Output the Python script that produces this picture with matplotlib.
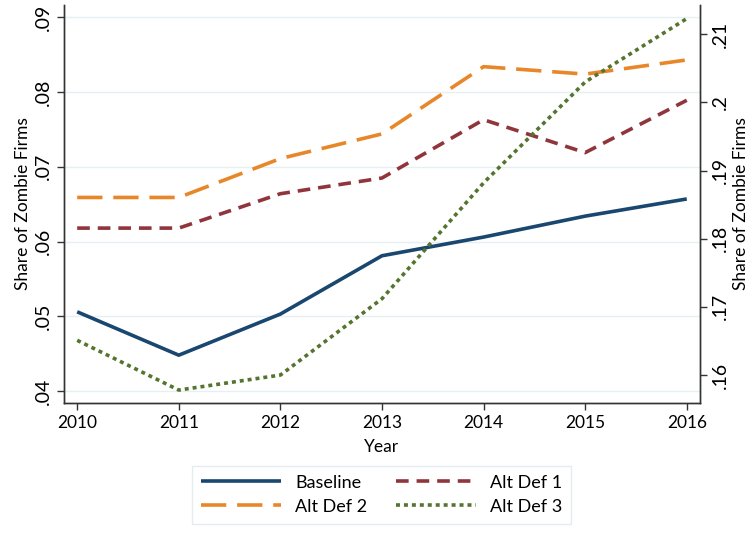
import matplotlib.pyplot as plt
import matplotlib.ticker as mticker

plt.rcParams['font.family'] = ['Lato', 'DejaVu Sans']

years = [2010, 2011, 2012, 2013, 2014, 2015, 2016]
baseline = [0.0506, 0.0448, 0.0503, 0.0581, 0.0606, 0.0634, 0.0657]
alt_def1 = [0.0618, 0.0618, 0.0664, 0.0685, 0.0763, 0.0719, 0.0789]
alt_def2 = [0.0659, 0.0659, 0.0711, 0.0744, 0.0834, 0.0824, 0.0843]
alt_def3 = [0.1651, 0.1578, 0.1600, 0.1712, 0.1882, 0.2030, 0.2123]

left_ticks = [0.04, 0.05, 0.06, 0.07, 0.08, 0.09]
right_ticks = [0.16, 0.17, 0.18, 0.19, 0.20, 0.21]

navy = '#1a476f'
orange = '#e8872a'
maroon = '#90353b'
green = '#55752f'
grid_c = '#e6eff2'
spine_c = '#333333'

fig = plt.figure(figsize=(7.5, 5.35), dpi=100)
ax = fig.add_axes([0.0853, 0.2467, 0.848, 0.744])
ax2 = ax.twinx()

l1, = ax.plot(years, baseline, color=navy, lw=2.6, label='Baseline', solid_capstyle='butt')
l2, = ax.plot(years, alt_def2, color=orange, lw=2.6, dashes=(7, 3), label='Alt Def 2')
l3, = ax.plot(years, alt_def1, color=maroon, lw=2.6, dashes=(3.5, 2.2), label='Alt Def 1')
l4, = ax2.plot(years, alt_def3, color=green, lw=2.6, dashes=(1.1, 1.1), label='Alt Def 3')

ax.set_xlim(2009.87, 2016.13)
ax.set_ylim(0.0384, 0.09165)
ax2.set_ylim(0.1559, 0.2143)

fmt = mticker.FuncFormatter(lambda v, p: ('%.2f' % v).lstrip('0').rstrip('0'))
ax.set_yticks(left_ticks)
ax2.set_yticks(right_ticks)
ax.yaxis.set_major_formatter(fmt)
ax2.yaxis.set_major_formatter(fmt)
ax.set_xticks(years)

ax.grid(axis='y', color=grid_c, lw=1.0)
ax.set_axisbelow(True)

for a in (ax, ax2):
    a.spines['top'].set_visible(False)
    for s in ('left', 'right', 'bottom'):
        a.spines[s].set_color(spine_c)
        a.spines[s].set_linewidth(1.0)
    a.tick_params(colors='black', labelsize=12.5, length=5, width=1.0, color=spine_c)
ax.tick_params(axis='y', labelsize=14)
ax2.tick_params(axis='y', labelsize=14)

for t in ax.get_yticklabels() + ax2.get_yticklabels():
    t.set_rotation(90)
    t.set_va('center')

ax.set_ylabel('Share of Zombie Firms', fontsize=12.5, labelpad=3)
ax2.set_ylabel('Share of Zombie Firms', fontsize=12.5, labelpad=3)
ax.set_xlabel('Year', fontsize=12.5, labelpad=6)

leg = fig.legend([l1, l2, l3, l4], ['Baseline', 'Alt Def 2', 'Alt Def 1', 'Alt Def 3'],
                 ncol=2, loc='lower center', bbox_to_anchor=(0.509, 0.004),
                 frameon=True, fancybox=False, fontsize=13, handlelength=4.4,
                 columnspacing=1.6, borderpad=0.5, labelspacing=0.45, handletextpad=0.8)
leg.get_frame().set_edgecolor('#dfe8ec')
leg.get_frame().set_linewidth(1.0)

fig.savefig('out.png', dpi=100)
